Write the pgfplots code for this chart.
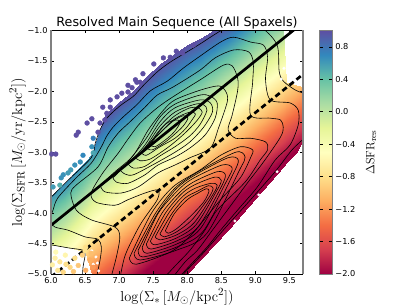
\documentclass[border=0pt]{standalone}
\usepackage[no-math]{fontspec}
\setmainfont{DejaVu Sans}
\usepackage{pgfplots}
\pgfplotsset{compat=1.18}
\pgfplotsset{colormap={spectral}{rgb255=(158,1,66) rgb255=(213,62,79) rgb255=(244,109,67) rgb255=(253,174,97) rgb255=(254,224,139) rgb255=(255,255,191) rgb255=(230,245,152) rgb255=(171,221,164) rgb255=(102,194,165) rgb255=(50,136,189) rgb255=(94,79,162)}}
\pgfplotsset{ct/.style={black, line width=0.6pt, smooth, tension=0.5, mark=none, forget plot}}
\begin{document}
\begin{tikzpicture}[x=1pt,y=1pt]
\path[use as bounding box] (0,0) rectangle (407,305);
\begin{axis}[at={(51pt,31pt)}, anchor=south west, scale only axis, width=252pt, height=243.5pt,
 xmin=6, xmax=9.7, ymin=-5, ymax=-1, colormap name=spectral, point meta min=-2, point meta max=1,
 axis on top, separate axis lines, x axis line style={black,line width=0.7pt}, y axis line style={gray,line width=1.1pt},
 xtick={6,6.5,7,7.5,8,8.5,9,9.5}, xticklabels={6.0,6.5,7.0,7.5,8.0,8.5,9.0,9.5},
 ytick={-5,-4.5,-4,-3.5,-3,-2.5,-2,-1.5,-1}, yticklabels={−5.0,−4.5,−4.0,−3.5,−3.0,−2.5,−2.0,−1.5,−1.0},
 tick label style={font=\fontsize{8.2}{9}\selectfont}, major tick length=3pt, tick style={black,line width=0.4pt}, tick align=inside,
 title={Resolved Main Sequence (All Spaxels)}, title style={font=\fontsize{12.7}{14}\selectfont, yshift=-8pt},
 xlabel={$\log(\Sigma_{*}\,[M_{\odot}/\mathrm{kpc}^{2}])$}, xlabel style={font=\fontsize{15}{17}\selectfont, yshift=2pt},
 ylabel={$\log(\Sigma_{\mathrm{SFR}}\,[M_{\odot}/\mathrm{yr}/\mathrm{kpc}^{2}])$}, ylabel style={font=\fontsize{15}{17}\selectfont, yshift=-5pt},
 colorbar, colorbar shift/.style={xshift=16pt},
 colorbar style={width=12.3pt, ytick={-2,-1.6,-1.2,-0.8,-0.4,0,0.4,0.8}, yticklabels={−2.0,−1.6,−1.2,−0.8,−0.4,0.0,0.4,0.8},
   tick label style={font=\fontsize{8.2}{9}\selectfont}, axis line style={gray,line width=0.7pt}, major tick length=3pt, tick style={black,line width=0.4pt},
   ylabel={$\Delta\mathrm{SFR}_{\mathrm{res}}$}, ylabel style={font=\fontsize{13}{15}\selectfont, yshift=-4pt}}
]
% field
\addplot[surf, shader=interp, mesh/rows=4, mesh/cols=22, mesh/ordering=y varies, point meta=\thisrow{c}, forget plot] table {
x y c
6.0 -4.52 -0.17
6.0 -4.52 -0.17
6.0 -4.2 0.15
6.0 -3.72 0.63
6.2 -4.56 -0.39
6.2 -4.56 -0.39
6.2 -4.02 0.15
6.2 -3.50 0.67
6.4 -4.6 -0.66
6.4 -4.6 -0.66
6.4 -3.84 0.1
6.4 -3.27 0.67
6.5 -4.62 -0.82
6.5 -4.62 -0.82
6.5 -3.75 0.05
6.5 -3.16 0.64
6.6 -5 -1.34
6.6 -5 -1.34
6.6 -3.66 0
6.6 -3.03 0.63
6.8 -5 -1.52
6.8 -5 -1.52
6.8 -3.48 0
6.8 -2.38 1
7.0 -5 -1.7
7.0 -5 -1.7
7.0 -3.3 0
7.0 -2.17 1
7.2 -5 -1.88
7.2 -5 -1.88
7.2 -3.12 0
7.2 -2.0 1
7.4 -5 -2
7.4 -4.94 -2
7.4 -2.94 0
7.4 -1.77 1
7.6 -5 -2
7.6 -4.76 -2
7.6 -2.76 0
7.6 -1.55 1
7.8 -5 -2
7.8 -4.58 -2
7.8 -2.58 0
7.8 -1.38 1
8.0 -5 -2
8.0 -4.4 -2
8.0 -2.4 0
8.0 -1.24 1
8.2 -4.76 -2
8.2 -4.22 -2
8.2 -2.22 0
8.2 -1.12 1
8.4 -4.52 -2
8.4 -4.04 -2
8.4 -2.04 0
8.4 -1 1
8.6 -4.27 -2
8.6 -3.86 -2
8.6 -1.86 0
8.6 -1 0.86
8.8 -4.02 -2
8.8 -3.68 -2
8.8 -1.68 0
8.8 -1 0.68
9.0 -3.76 -2
9.0 -3.5 -2
9.0 -1.5 0
9.0 -1 0.5
9.2 -3.5 -2
9.2 -3.32 -2
9.2 -1.32 0
9.2 -1 0.32
9.4 -3.24 -2
9.4 -3.14 -2
9.4 -1.14 0
9.4 -1 0.14
9.45 -3.18 -2
9.45 -3.095 -2
9.45 -1.85 -0.755
9.45 -1.85 -0.755
9.6 -3.01 -2
9.6 -2.96 -2
9.6 -1.89 -0.93
9.6 -1.89 -0.93
9.7 -2.80 -1.93
9.7 -2.80 -1.93
9.7 -1.93 -1.06
9.7 -1.93 -1.06
};
% white gaps in the field
\addplot[only marks, mark=*, mark size=1.3pt, white, forget plot] coordinates {(6.60,-4.62)(6.66,-4.72)(6.62,-4.84)(6.70,-4.95)(6.68,-4.82)(9.42,-1.62)(9.38,-1.80)(8.70,-4.13)(9.05,-3.70)(9.32,-3.32)};
% scattered spaxels
\addplot[scatter, only marks, mark=*, mark size=2.4pt, scatter src=explicit, scatter/use mapped color={draw=mapped color, fill=mapped color}, forget plot] table[meta=c] {
x y c
8.09 -1.24 1
7.84 -1.34 1
7.93 -1.37 1
7.75 -1.44 1
7.65 -1.45 1
7.51 -1.55 1
7.35 -1.71 1
7.26 -1.85 1
7.24 -1.81 1
7.31 -1.85 1
7.13 -1.90 1
7.19 -1.94 1
7.04 -2.03 1
6.97 -2.09 1
7.13 -2.01 1
6.87 -2.14 1
6.76 -2.26 1
6.87 -2.26 1
6.82 -2.36 1
6.72 -2.52 1
6.79 -2.47 1
6.60 -2.45 1
6.53 -2.52 1
6.69 -2.67 1
6.40 -2.67 1
6.37 -2.72 1
6.01 -3.03 1
6.07 -3.03 1
6.62 -2.77 0.75
6.60 -2.91 0.65
6.62 -3.01 0.55
6.47 -3.05 0.7
6.43 -3.16 0.65
6.35 -3.21 0.65
6.29 -3.29 0.6
6.25 -3.34 0.6
6.18 -3.37 0.65
6.15 -3.42 0.65
6.13 -3.54 0.5
6.03 -3.57 0.6
6.51 -4.56 -0.8
6.50 -4.62 -0.8
6.46 -4.69 -0.9
6.35 -4.74 -0.8
6.21 -4.69 -0.6
6.07 -4.64 -0.55
6.06 -4.74 -0.65
6.13 -4.80 -0.75
6.22 -4.84 -0.8
6.28 -4.89 -0.85
6.10 -4.94 -0.75
6.59 -4.66 -1.0
6.57 -4.77 -1.1
6.62 -4.89 -1.2
6.51 -4.94 -1.1
6.40 -4.86 -0.95
6.33 -4.96 -0.95
6.18 -4.97 -0.85
6.02 -4.85 -0.65
};
% contours
\addplot[ct] coordinates {(5.95,-3.78)(6.00,-3.74)(6.25,-3.46)(6.59,-3.09)(6.65,-2.85)(6.72,-2.63)(6.82,-2.44)(7.01,-2.24)(7.21,-2.08)(7.35,-1.91)(7.56,-1.68)(7.75,-1.52)(8.00,-1.35)(8.19,-1.22)(8.41,-1.06)(8.56,-0.96)(8.78,-0.83)(9.10,-0.96)(9.32,-1.24)(9.35,-1.67)(9.41,-1.83)(9.59,-1.98)(9.74,-2.04)};
\addplot[ct] coordinates {(9.74,-2.75)(9.54,-2.96)(9.29,-3.32)(8.93,-3.78)(8.56,-4.24)(8.24,-4.65)(7.97,-4.97)(7.87,-5.1)};
\addplot[ct] coordinates {(5.91,-4.50)(6.00,-4.52)(6.25,-4.57)(6.47,-4.61)(6.50,-4.69)(6.47,-4.89)(6.46,-5.10)};
\addplot[ct] coordinates {(6.66,-5.1)(6.72,-4.77)(6.74,-4.56)(6.69,-4.43)(6.50,-4.39)(6.25,-4.28)(6.06,-4.23)(6.00,-4.15)(6.01,-4.01)(6.03,-3.95)(6.10,-3.75)(6.37,-3.42)(6.59,-3.18)(6.74,-2.91)(6.81,-2.75)(6.91,-2.59)(7.06,-2.42)(7.26,-2.22)(7.46,-1.99)(7.71,-1.83)(7.94,-1.62)(8.19,-1.42)(8.49,-1.19)(8.68,-1.11)(8.93,-1.19)(9.12,-1.24)(9.18,-1.44)(9.15,-1.81)(9.22,-2.14)(9.51,-2.19)(9.63,-2.31)(9.63,-2.55)(9.51,-2.88)(9.29,-3.13)(9.03,-3.57)(8.74,-3.95)(8.49,-4.28)(8.29,-4.56)(8.09,-4.80)(7.90,-5.03)};
\addplot[ct] coordinates {(6.87,-5.1)(6.96,-4.72)(7.01,-4.39)(6.94,-4.23)(6.59,-4.11)(6.37,-3.95)(6.29,-3.67)(6.37,-3.54)(6.69,-3.24)(6.84,-2.91)(6.99,-2.68)(7.16,-2.50)(7.38,-2.26)(7.56,-2.06)(7.79,-1.93)(8.19,-1.65)(8.41,-1.45)(8.68,-1.32)(8.90,-1.35)(8.97,-1.52)(8.96,-1.86)(8.93,-2.39)(9.22,-2.44)(9.37,-2.47)(9.41,-2.59)(9.37,-2.75)(9.12,-3.16)(8.88,-3.51)(8.59,-3.95)(8.37,-4.28)(8.15,-4.61)(7.97,-4.80)(7.78,-5.07)};
\addplot[ct] coordinates {(7.01,-5.1)(7.09,-4.69)(7.31,-4.19)(7.56,-3.78)(7.57,-3.62)(7.38,-3.67)(7.13,-3.78)(6.94,-3.87)(6.66,-3.82)(6.59,-3.67)(6.76,-3.34)(6.99,-3.01)(7.12,-2.80)(7.31,-2.52)(7.56,-2.27)(7.79,-2.09)(8.19,-1.81)(8.53,-1.57)(8.66,-1.58)(8.74,-1.78)(8.74,-1.99)(8.66,-2.39)(8.60,-2.63)(8.71,-2.77)(8.93,-2.77)(9.15,-2.83)(9.18,-2.96)(9.07,-3.13)(8.85,-3.49)(8.44,-3.95)(8.26,-4.28)(8.04,-4.61)(7.82,-4.87)(7.63,-5.1)};
% upper closed contours
\addplot[ct] coordinates {(6.72,-3.54)(6.79,-3.65)(7.03,-3.67)(7.28,-3.57)(7.57,-3.34)(7.82,-3.21)(8.04,-3.09)(8.34,-2.93)(8.46,-2.60)(8.59,-2.16)(8.56,-1.99)(8.46,-1.91)(8.19,-1.98)(7.82,-2.14)(7.65,-2.31)(7.43,-2.63)(7.21,-3.05)(6.94,-3.32)(6.72,-3.54)};
\addplot[ct] coordinates {(6.91,-3.42)(6.96,-3.49)(7.13,-3.51)(7.38,-3.37)(7.57,-3.21)(7.82,-3.08)(8.04,-2.93)(8.26,-2.72)(8.41,-2.44)(8.44,-2.19)(8.34,-2.08)(8.19,-2.06)(7.82,-2.21)(7.60,-2.42)(7.38,-2.80)(7.09,-3.21)(6.91,-3.42)};
\addplot[ct] coordinates {(7.01,-3.29)(7.09,-3.36)(7.21,-3.37)(7.49,-3.21)(7.82,-3.00)(8.04,-2.83)(8.24,-2.59)(8.37,-2.34)(8.34,-2.19)(8.19,-2.14)(7.82,-2.27)(7.60,-2.50)(7.38,-2.88)(7.16,-3.16)(7.01,-3.29)};
\addplot[ct] coordinates {(7.13,-3.19)(7.21,-3.26)(7.38,-3.23)(7.60,-3.06)(7.82,-2.91)(8.04,-2.73)(8.19,-2.54)(8.29,-2.31)(8.24,-2.22)(8.12,-2.21)(7.82,-2.34)(7.60,-2.57)(7.41,-2.88)(7.24,-3.09)(7.13,-3.19)};
\addplot[ct] coordinates {(7.24,-3.09)(7.31,-3.14)(7.46,-3.11)(7.68,-2.95)(7.82,-2.83)(8.00,-2.65)(8.15,-2.47)(8.22,-2.34)(8.16,-2.27)(8.04,-2.27)(7.82,-2.40)(7.60,-2.63)(7.43,-2.88)(7.24,-3.09)};
\addplot[ct] coordinates {(7.32,-3.00)(7.40,-3.05)(7.60,-2.91)(7.82,-2.77)(7.97,-2.62)(8.07,-2.47)(8.12,-2.37)(8.04,-2.34)(7.82,-2.45)(7.60,-2.68)(7.46,-2.83)(7.32,-3.00)};
\addplot[ct] coordinates {(7.40,-2.93)(7.49,-2.96)(7.68,-2.83)(7.82,-2.70)(7.94,-2.57)(8.01,-2.44)(7.94,-2.40)(7.78,-2.50)(7.57,-2.72)(7.40,-2.93)};
\addplot[ct] coordinates {(7.46,-2.88)(7.53,-2.91)(7.71,-2.77)(7.82,-2.65)(7.90,-2.50)(7.82,-2.47)(7.68,-2.54)(7.53,-2.75)(7.46,-2.88)};
% lower closed contours
\addplot[ct] coordinates {(7.68,-4.29)(7.81,-4.01)(8.00,-3.78)(8.16,-3.67)(8.28,-3.60)(8.32,-3.64)(8.24,-3.82)(8.04,-4.06)(7.84,-4.26)(7.72,-4.33)(7.68,-4.29)};
\addplot[ct] coordinates {(7.60,-4.34)(7.78,-4.00)(7.97,-3.75)(8.15,-3.64)(8.31,-3.55)(8.38,-3.59)(8.32,-3.74)(8.07,-4.11)(7.84,-4.31)(7.66,-4.39)(7.60,-4.34)};
\addplot[ct] coordinates {(7.53,-4.39)(7.74,-3.98)(7.94,-3.72)(8.12,-3.59)(8.35,-3.51)(8.44,-3.54)(8.38,-3.69)(8.10,-4.16)(7.84,-4.36)(7.60,-4.44)(7.53,-4.39)};
\addplot[ct] coordinates {(7.46,-4.46)(7.68,-4.00)(7.91,-3.69)(8.10,-3.54)(8.40,-3.41)(8.50,-3.46)(8.43,-3.64)(8.13,-4.19)(7.84,-4.41)(7.53,-4.52)(7.46,-4.46)};
\addplot[ct] coordinates {(7.40,-4.51)(7.63,-4.00)(7.88,-3.67)(8.09,-3.49)(8.44,-3.32)(8.56,-3.37)(8.49,-3.59)(8.16,-4.23)(7.84,-4.46)(7.47,-4.59)(7.40,-4.51)};
\addplot[ct] coordinates {(7.34,-4.56)(7.57,-4.01)(7.85,-3.64)(8.07,-3.44)(8.51,-3.21)(8.66,-3.26)(8.57,-3.49)(8.19,-4.26)(7.84,-4.51)(7.41,-4.66)(7.34,-4.56)};
\addplot[ct] coordinates {(7.28,-4.61)(7.56,-4.01)(7.84,-3.60)(8.12,-3.37)(8.60,-3.09)(8.75,-3.13)(8.66,-3.39)(8.24,-4.29)(7.84,-4.56)(7.35,-4.72)(7.28,-4.61)};
\addplot[ct] coordinates {(7.22,-4.66)(7.53,-4.01)(7.82,-3.59)(8.16,-3.32)(8.71,-3.00)(8.85,-3.08)(8.76,-3.31)(8.29,-4.33)(7.84,-4.61)(7.31,-4.77)(7.22,-4.66)};
\addplot[ct] coordinates {(7.15,-4.74)(7.47,-4.01)(7.79,-3.57)(8.19,-3.29)(8.49,-3.05)(8.78,-2.91)(8.96,-2.96)(8.93,-3.09)(8.78,-3.42)(8.49,-3.78)(8.04,-4.38)(7.75,-4.64)(7.25,-4.84)(7.15,-4.74)};
% main sequence lines
\addplot[black, line width=2.7pt, forget plot] coordinates {(6.0,-4.2)(9.7,-0.87)};
\addplot[black, line width=2.7pt, dash pattern=on 5.5pt off 3.5pt, forget plot] coordinates {(6.0,-5.05)(9.7,-1.72)};
\end{axis}
\end{tikzpicture}
\end{document}
